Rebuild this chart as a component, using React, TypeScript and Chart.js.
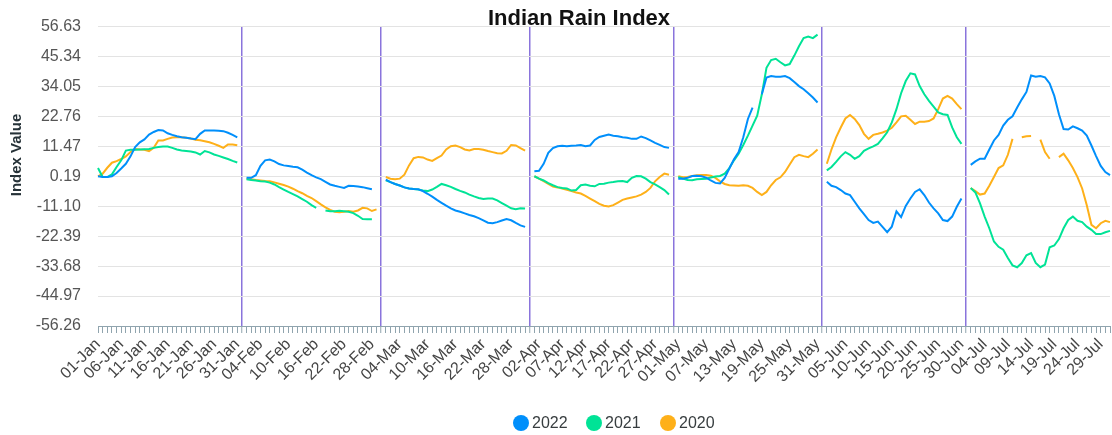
import React, { useEffect, useRef } from 'react';
import { Chart, registerables } from 'chart.js';

Chart.register(...registerables);

const monthNames = ['Jan', 'Feb', 'Mar', 'Apr', 'May', 'Jun', 'Jul'];
const monthDays = [31, 29, 31, 30, 31, 30, 31];

const shownTickLabels = [
  '01-Jan', '06-Jan', '11-Jan', '16-Jan', '21-Jan', '26-Jan', '31-Jan',
  '04-Feb', '10-Feb', '16-Feb', '22-Feb', '28-Feb',
  '04-Mar', '10-Mar', '16-Mar', '22-Mar', '28-Mar',
  '02-Apr', '07-Apr', '12-Apr', '17-Apr', '22-Apr', '27-Apr',
  '01-May', '07-May', '13-May', '19-May', '25-May', '31-May',
  '05-Jun', '10-Jun', '15-Jun', '20-Jun', '25-Jun', '30-Jun',
  '04-Jul', '09-Jul', '14-Jul', '19-Jul', '24-Jul', '29-Jul',
];

const yTickValues = [56.63, 45.34, 34.05, 22.76, 11.47, 0.19, -11.1, -22.39, -33.68, -44.97, -56.26];

const seriesNames = ['2022', '2021', '2020'];
const seriesColors = ['#008FFB', '#00E396', '#FEB019'];

const values2022 = [
  [0.19, -0.1, -0.1, 0.2, 1.4, 3.1, 4.9, 7.7, 11.2, 13.0, 14.1, 15.9, 16.9, 17.6, 17.5, 16.4, 15.8, 15.3, 14.9, 14.7, 14.4, 14.2, 16.2, 17.5, 17.5, 17.5, 17.4, 17.2, 16.6, 15.8, 14.9],
  [-0.4, -0.4, 0.6, 4.1, 6.2, 6.5, 5.8, 4.8, 4.3, 4.1, 3.8, 3.6, 2.7, 1.6, 0.6, -0.2, -0.9, -1.9, -2.9, -3.4, -3.8, -4.2, -3.4, -3.5, -3.7, -3.9, -4.3, -4.7],
  [-1.1, -2.0, -2.7, -3.3, -4.0, -4.4, -4.6, -4.7, -5.4, -6.4, -7.5, -8.7, -9.8, -10.9, -11.9, -12.7, -13.2, -13.8, -14.4, -14.9, -15.6, -16.4, -17.3, -17.5, -17.1, -16.5, -15.9, -16.4, -17.4, -18.3, -18.9],
  [2.1, 2.3, 4.9, 9.0, 10.8, 11.5, 11.7, 11.5, 11.7, 11.8, 12.0, 11.5, 11.8, 13.9, 15.0, 15.5, 15.9, 15.5, 15.3, 14.9, 14.7, 14.3, 14.3, 15.2, 14.6, 13.7, 12.8, 12.0, 11.2, 10.9],
  [-0.7, -0.7, -0.4, 0.3, 0.4, 0.2, -0.3, -1.4, -2.3, -2.5, -0.4, 3.1, 6.6, 9.3, 14.9, 21.8, 26.1, null, 31.1, 37.4, 38.0, 37.7, 37.7, 38.0, 37.2, 35.7, 34.2, 33.0, 31.5, 29.9, 28.0],
  [-1.9, -3.4, -3.9, -5.0, -6.3, -6.9, -9.4, -11.9, -14.1, -16.3, -17.4, -16.9, -18.9, -20.9, -18.8, -13.0, -15.2, -11.0, -8.2, -5.7, -4.7, -6.9, -9.7, -11.9, -13.8, -16.3, -16.7, -15.0, -11.3, -8.2],
  [4.5, 5.8, 6.8, 6.8, 10.3, 13.7, 15.8, 19.3, 21.5, 22.8, 26.1, 29.2, 32.0, 38.2, 37.7, 38.0, 37.5, 35.2, 30.5, 23.6, 18.0, 17.8, 19.0, 18.3, 17.4, 15.5, 11.8, 7.8, 4.1, 1.8, 0.6],
];

const values2021 = [
  [3.3, -0.1, -0.1, 0.9, 3.7, 6.2, 9.9, 10.2, 10.2, 10.3, 10.4, 10.5, 10.9, 11.2, 11.4, 11.4, 10.9, 10.3, 9.9, 9.7, 9.5, 9.2, 8.4, 9.7, 9.2, 8.4, 7.9, 7.3, 6.7, 6.0, 5.4],
  [-0.9, -1.2, -1.4, -1.7, -1.8, -2.2, -2.9, -3.9, -4.8, -5.7, -6.5, -7.4, -8.4, -9.4, -10.7, -11.7, null, -12.7, -13.0, -13.0, -12.8, -13.0, -13.2, -13.7, -14.7, -15.9, -16.0, -16.0],
  [-1.3, -2.0, -2.7, -3.3, -4.0, -4.4, -4.6, -4.8, -5.2, -5.4, -4.8, -3.8, -2.7, -3.2, -3.8, -4.6, -5.3, -5.9, -6.7, -7.4, -8.0, -8.4, -8.2, -8.2, -8.9, -9.9, -10.9, -11.9, -12.2, -11.9, -12.0],
  [0.2, -0.7, -1.4, -2.4, -3.2, -3.9, -4.2, -4.4, -5.2, -5.0, -3.2, -2.9, -3.4, -3.6, -2.7, -2.6, -2.2, -2.0, -1.7, -1.6, -2.0, -0.4, 0.3, 0.2, -0.7, -2.0, -2.9, -3.9, -5.0, -6.7],
  [-0.1, -0.7, -1.2, -1.3, -0.9, -0.8, -0.7, -0.3, 0.1, 0.3, 1.2, 3.3, 6.2, 8.7, 12.0, 15.5, 19.3, 23.0, 31.1, 41.1, 44.0, 44.5, 43.2, 42.0, 42.5, 45.7, 49.2, 52.3, 52.9, 52.3, 53.6],
  [2.4, 3.7, 5.6, 7.7, 9.3, 8.3, 6.8, 7.8, 9.8, 10.7, 11.5, 12.4, 14.5, 16.8, 20.5, 25.5, 31.5, 36.1, 39.0, 38.6, 34.2, 31.1, 28.6, 26.5, 24.3, 23.6, 23.3, 18.6, 14.9, 12.4],
  [-4.2, -5.9, -10.0, -15.0, -19.4, -24.4, -26.4, -27.5, -30.6, -33.4, -34.1, -32.5, -29.6, -28.8, -32.5, -34.1, -33.1, -26.6, -25.9, -23.5, -19.4, -16.3, -15.0, -16.6, -17.1, -18.8, -20.0, -21.6, -21.6, -20.9, -20.4],
];

const values2020 = [
  [0.2, 1.2, 3.4, 5.3, 5.9, 6.7, 7.7, 9.3, 10.5, 10.3, 10.2, 9.7, 10.9, 13.7, 13.7, 14.3, 14.8, 14.9, 14.9, 14.7, 14.4, 14.0, 13.8, 13.4, 13.0, 12.4, 11.7, 10.9, 12.2, 12.2, 11.9],
  [-0.7, -0.9, -1.2, -1.4, -1.6, -1.7, -2.1, -2.6, -3.1, -3.7, -4.5, -5.4, -6.2, -7.2, -8.0, -9.2, -10.4, -11.5, -12.5, -13.2, -13.4, -13.2, -12.9, -13.2, -12.7, -11.7, -11.9, -12.9, -12.3],
  [-0.1, -0.7, -0.9, -0.7, 0.8, 4.3, 7.0, 7.5, 7.3, 6.5, 6.0, 7.0, 8.0, 10.3, 11.5, 11.8, 11.2, 10.3, 9.9, 10.5, 10.5, 10.2, 9.7, 9.3, 8.9, 8.8, 9.8, 12.0, 11.8, 10.8, 9.9],
  [0.2, -0.7, -1.6, -2.7, -3.7, -4.0, -4.4, -4.9, -5.4, -5.9, -6.3, -7.2, -8.2, -9.2, -10.2, -10.9, -11.2, -10.7, -9.7, -8.7, -8.2, -7.8, -7.4, -6.7, -5.7, -4.2, -1.7, -0.1, 1.2, 0.8],
  [0.2, -0.2, -0.1, 0.3, 0.6, 0.7, 0.7, 0.4, -0.4, -1.7, -2.7, -3.2, -3.3, -3.4, -3.2, -3.4, -4.2, -5.7, -6.9, -5.7, -3.2, -1.2, -0.2, 1.8, 4.6, 7.4, 8.3, 7.8, 7.4, 8.7, 10.3],
  [4.9, 10.3, 14.9, 18.6, 22.0, 23.3, 21.8, 19.5, 16.2, 14.3, 15.8, 16.2, 16.7, 17.4, 18.5, 20.5, 22.8, 23.0, 21.5, 19.9, 20.8, 20.8, 21.0, 22.0, 25.5, 29.5, 30.5, 29.5, 27.4, 25.5],
  [-4.3, -5.4, -6.7, -6.3, -3.4, -0.1, 3.3, 4.3, 8.3, 14.3, null, 14.9, 15.3, 15.4, null, 14.0, 9.3, 6.8, null, 7.4, 8.7, 6.2, 3.3, -0.1, -4.4, -10.7, -18.1, -19.4, -17.5, -16.6, -17.1],
];

// Build daily categories with one blank separator slot between months
const categories: string[] = [];
const separatorIdx: number[] = [];
monthNames.forEach((m, mi) => {
  if (mi > 0) {
    separatorIdx.push(categories.length);
    categories.push('');
  }
  for (let d = 1; d <= monthDays[mi]; d++) {
    categories.push(String(d).padStart(2, '0') + '-' + m);
  }
});

function flatten(months: (number | null)[][]): (number | null)[] {
  const out: (number | null)[] = [];
  months.forEach((arr, mi) => {
    if (mi > 0) out.push(null);
    for (let d = 0; d < monthDays[mi]; d++) out.push(d < arr.length ? arr[d] : null);
  });
  return out;
}

const FONT = '"Liberation Sans", Arial, Helvetica, sans-serif';

const decorPlugin = {
  id: 'decor',
  afterDraw(chart: any) {
    const ctx = chart.ctx;
    ctx.save();
    // Title
    ctx.fillStyle = '#111';
    ctx.font = `bold 22px ${FONT}`;
    ctx.textAlign = 'center';
    ctx.textBaseline = 'alphabetic';
    ctx.fillText('Indian Rain Index', 579, 25);
    // Y axis title
    ctx.save();
    ctx.translate(17, 155);
    ctx.rotate(-Math.PI / 2);
    ctx.font = `bold 15px ${FONT}`;
    ctx.fillStyle = '#263238';
    ctx.textAlign = 'center';
    ctx.textBaseline = 'middle';
    ctx.fillText('Index Value', 0, 0);
    ctx.restore();
    // Legend
    const legendX = [521, 594, 668];
    const legendY = 423;
    ctx.font = `16px ${FONT}`;
    ctx.textAlign = 'left';
    ctx.textBaseline = 'middle';
    seriesNames.forEach((name, i) => {
      ctx.beginPath();
      ctx.arc(legendX[i], legendY, 8, 0, Math.PI * 2);
      ctx.fillStyle = seriesColors[i];
      ctx.fill();
      ctx.fillStyle = '#373d3f';
      ctx.fillText(name, legendX[i] + 11, legendY + 1);
    });
    ctx.restore();
  },
};

export default function App() {
  const canvasRef = useRef<HTMLCanvasElement | null>(null);

  useEffect(() => {
    document.body.style.margin = '0';
    const canvas = canvasRef.current;
    if (!canvas) return;
    const datasets = [values2022, values2021, values2020].map((v, i) => ({
      label: seriesNames[i],
      data: flatten(v),
      borderColor: seriesColors[i],
      backgroundColor: seriesColors[i],
      borderWidth: 2,
      pointRadius: 0,
      pointHoverRadius: 0,
      tension: 0,
      fill: false,
      spanGaps: false,
    }));
    const chart = new Chart(canvas, {
      type: 'line',
      data: { labels: categories, datasets },
      options: {
        responsive: false,
        animation: false,
        devicePixelRatio: 1,
        layout: { padding: { top: 23, right: 2, bottom: 0, left: 0 } },
        plugins: {
          legend: { display: false },
          title: { display: false },
          tooltip: { enabled: false },
        },
        scales: {
          x: {
            type: 'category',
            offset: false,
            afterFit: (s: any) => {
              s.height = 109;
              s.paddingRight = 0;
              s.paddingLeft = 0;
            },
            grid: {
              offset: false,
              drawOnChartArea: true,
              drawTicks: true,
              tickLength: 7,
              tickColor: '#90a4ae',
              tickWidth: 1,
              color: (c: any) => (separatorIdx.includes(c.index) ? '#8a74dc' : 'rgba(0,0,0,0)'),
              lineWidth: (c: any) => (separatorIdx.includes(c.index) ? 1.5 : 1),
            },
            border: { display: true, color: '#90a4ae', width: 1 },
            ticks: {
              autoSkip: false,
              maxRotation: 45,
              minRotation: 45,
              padding: 2,
              color: '#444',
              font: { family: FONT, size: 16 },
              callback: (_v: any, idx: number) => {
                const l = categories[idx];
                return shownTickLabels.includes(l) ? l : '';
              },
            },
          },
          y: {
            type: 'linear',
            min: -56.26,
            max: 56.63,
            afterFit: (s: any) => {
              s.width = 98;
            },
            afterBuildTicks: (s: any) => {
              s.ticks = yTickValues.map((v) => ({ value: v }));
            },
            grid: { color: '#e3e3e3', lineWidth: 1, drawTicks: false },
            border: { display: false },
            ticks: {
              padding: 17,
              color: '#555',
              font: { family: FONT, size: 16 },
              callback: (v: any) => Number(v).toFixed(2),
            },
          },
        },
      },
      plugins: [decorPlugin],
    });
    return () => chart.destroy();
  }, []);

  return (
    <div style={{ width: 1112, height: 435, background: '#fff' }}>
      <canvas ref={canvasRef} width={1112} height={435} style={{ display: 'block', width: 1112, height: 435 }} />
    </div>
  );
}
